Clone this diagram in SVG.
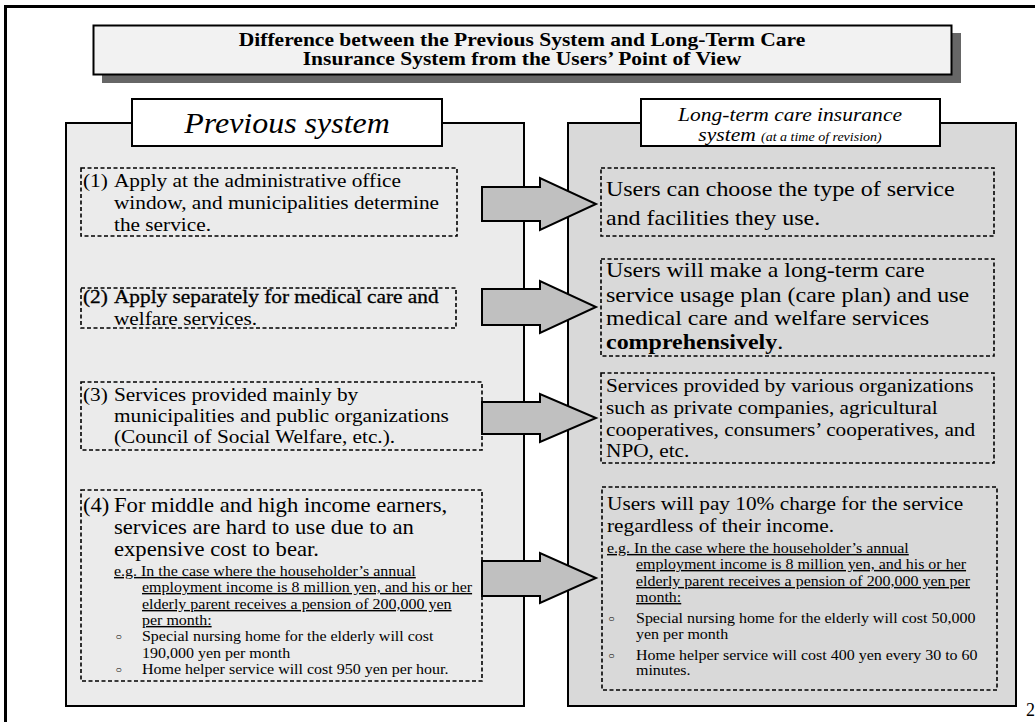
<svg xmlns="http://www.w3.org/2000/svg" width="1035" height="722" viewBox="0 0 1035 722">
  <style>
    text { font-family: "Liberation Serif", "Times New Roman", serif; fill: #000; }
    .title { font-size: 19.4px; font-weight: bold; text-anchor: middle; }
    .lbl { font-style: italic; text-anchor: middle; }
    .l19 { font-size: 19.2px; }
    .l20 { font-size: 20.4px; }
    .r22 { font-size: 21.6px; }
    .r19 { font-size: 19.2px; }
    .sm { font-size: 14.4px; }
    .bul { font-size: 10px; }
    .ul { text-decoration: underline; }
    .heavy { stroke: #000; stroke-width: 0.3; }
    .panel { stroke: #000; stroke-width: 2; }
    .dash { fill: none; stroke: #000; stroke-width: 1.6; stroke-dasharray: 4 2.5; }
    .arrow { fill: #c0c0c0; stroke: #000; stroke-width: 2; stroke-linejoin: miter; }
  </style>

  <rect width="1035" height="722" fill="#fff"/>

  <!-- page frame (runs off the right and bottom edges) -->
  <path d="M5.5 722 V6.5 H1035" fill="none" stroke="#000" stroke-width="3"/>

  <!-- heading box with drop shadow; lettering is slightly widened -->
  <g id="heading">
    <rect x="102" y="33" width="859" height="50" fill="#666"/>
    <rect x="93.5" y="25.5" width="858" height="49" fill="#f2f2f2" stroke="#000" stroke-width="2"/>
    <g transform="translate(522 0) scale(1.11 1)">
      <text class="title" x="0" y="46">Difference between the Previous System and Long-Term Care</text>
      <text class="title" x="0" y="65">Insurance System from the Users’ Point of View</text>
    </g>
  </g>

  <!-- left panel: previous system -->
  <g id="previous-panel">
    <rect class="panel" x="66" y="123" width="458" height="583" fill="#ebebeb"/>
    <rect x="132" y="99" width="310" height="47" fill="#fff" stroke="#000" stroke-width="2"/>
    <g transform="translate(287 0) scale(1.11 1)">
      <text class="lbl" x="0" y="133" font-size="28.8">Previous system</text>
    </g>
  </g>

  <!-- right panel: long-term care insurance system -->
  <g id="insurance-panel">
    <rect class="panel" x="568" y="123" width="448" height="583" fill="#d9d9d9"/>
    <rect x="641" y="99" width="299" height="47" fill="#fff" stroke="#000" stroke-width="2"/>
    <g transform="translate(790 0) scale(1.11 1)">
      <text class="lbl" x="0" y="121" font-size="19.4">Long-term care insurance</text>
      <text class="lbl" x="0" y="141" font-size="19.4">system <tspan font-size="12.6">(at a time of revision)</tspan></text>
    </g>
  </g>

  <!-- previous system items (text blocks anchored at x=83, widened 1.11x) -->
  <g id="prev-1">
    <rect class="dash" x="81" y="168" width="376" height="68"/>
    <g transform="translate(83 0) scale(1.11 1)">
      <text class="l19" x="0" y="187">(1)</text>
      <text class="l19" x="27.93" y="187">Apply at the administrative office</text>
      <text class="l19" x="27.93" y="209">window, and municipalities determine</text>
      <text class="l19" x="27.93" y="231">the service.</text>
    </g>
  </g>
  <g id="prev-2">
    <rect class="dash" x="81" y="288" width="375" height="40"/>
    <g transform="translate(83 0) scale(1.11 1)">
      <text class="l19 heavy" x="0" y="303">(2)</text>
      <text class="l19 heavy" x="27.93" y="303">Apply separately for medical care and</text>
      <text class="l19" x="27.93" y="325">welfare services.</text>
    </g>
  </g>
  <g id="prev-3">
    <rect class="dash" x="81" y="382" width="401" height="68"/>
    <g transform="translate(83 0) scale(1.11 1)">
      <text class="l19" x="0" y="401">(3)</text>
      <text class="l19" x="27.93" y="401">Services provided mainly by</text>
      <text class="l19" x="27.93" y="422">municipalities and public organizations</text>
      <text class="l19" x="27.93" y="443">(Council of Social Welfare, etc.).</text>
    </g>
  </g>
  <g id="prev-4">
    <rect class="dash" x="81" y="490" width="401" height="191"/>
    <g transform="translate(83 0) scale(1.11 1)">
      <text class="l20" x="0" y="512">(4)</text>
      <text class="l20" x="27.93" y="512">For middle and high income earners,</text>
      <text class="l20" x="27.93" y="534">services are hard to use due to an</text>
      <text class="l20" x="27.93" y="556">expensive cost to bear.</text>
      <text class="sm ul" x="27.93" y="576">e.g.  In the case where the householder’s annual</text>
      <text class="sm ul" x="53.15" y="592">employment income is 8 million yen, and his or her</text>
      <text class="sm ul" x="53.15" y="609">elderly parent receives a pension of 200,000 yen</text>
      <text class="sm ul" x="53.15" y="625">per month:</text>
      <text class="bul" x="29" y="640">○</text>
      <text class="sm" x="53.15" y="641">Special nursing home for the elderly will cost</text>
      <text class="sm" x="53.15" y="658">190,000 yen per month</text>
      <text class="bul" x="29" y="673">○</text>
      <text class="sm" x="53.15" y="674">Home helper service will cost 950 yen per hour.</text>
    </g>
  </g>

  <!-- insurance system items (text blocks anchored at their left margin, widened 1.11x) -->
  <g id="ins-1">
    <rect class="dash" x="601" y="168" width="393" height="68"/>
    <g transform="translate(606 0) scale(1.11 1)">
      <text class="r22" x="0" y="196">Users can choose the type of service</text>
      <text class="r22" x="0" y="225">and facilities they use.</text>
    </g>
  </g>
  <g id="ins-2">
    <rect class="dash" x="601" y="259" width="393" height="97"/>
    <g transform="translate(606 0) scale(1.11 1)">
      <text class="r22" x="0" y="277">Users will make a long-term care</text>
      <text class="r22" x="0" y="302">service usage plan (care plan) and use</text>
      <text class="r22" x="0" y="325">medical care and welfare services</text>
      <text class="r22" x="0" y="349"><tspan font-weight="bold">comprehensively</tspan>.</text>
    </g>
  </g>
  <g id="ins-3">
    <rect class="dash" x="601" y="373" width="393" height="90"/>
    <g transform="translate(606 0) scale(1.11 1)">
      <text class="r19" x="0" y="392">Services provided by various organizations</text>
      <text class="r19" x="0" y="414">such as private companies, agricultural</text>
      <text class="r19" x="0" y="436">cooperatives, consumers’ cooperatives, and</text>
      <text class="r19" x="0" y="457">NPO, etc.</text>
    </g>
  </g>
  <g id="ins-4">
    <rect class="dash" x="602" y="487" width="395" height="203"/>
    <g transform="translate(607 0) scale(1.11 1)">
      <text class="r19" x="0" y="510">Users will pay 10% charge for the service</text>
      <text class="r19" x="0" y="532">regardless of their income.</text>
      <text class="sm ul" x="0" y="553">e.g.  In the case where the householder’s annual</text>
      <text class="sm ul" x="26.13" y="569">employment income is 8 million yen, and his or her</text>
      <text class="sm ul" x="26.13" y="586">elderly parent receives a pension of 200,000 yen per</text>
      <text class="sm ul" x="26.13" y="602">month:</text>
      <text class="bul" x="1" y="622">○</text>
      <text class="sm" x="26.13" y="623">Special nursing home for the elderly will cost 50,000</text>
      <text class="sm" x="26.13" y="639">yen per month</text>
      <text class="bul" x="1" y="659">○</text>
      <text class="sm" x="26.13" y="660">Home helper service will cost 400 yen every 30 to 60</text>
      <text class="sm" x="26.13" y="675">minutes.</text>
    </g>
  </g>

  <!-- block arrows linking each previous item to its replacement -->
  <g id="connectors">
    <path class="arrow" d="M482 187 H540 V178 L596 204 L540 230 V221 H482 Z"/>
    <path class="arrow" d="M482 289 H540 V281 L596 307 L540 333 V325 H482 Z"/>
    <path class="arrow" d="M482 402 H540 V394 L596 418 L540 442 V434 H482 Z"/>
    <path class="arrow" d="M482 561 H540 V553 L596 578 L540 603 V596 H482 Z"/>
  </g>

  <text x="1026" y="716" font-size="18">2</text>
</svg>
